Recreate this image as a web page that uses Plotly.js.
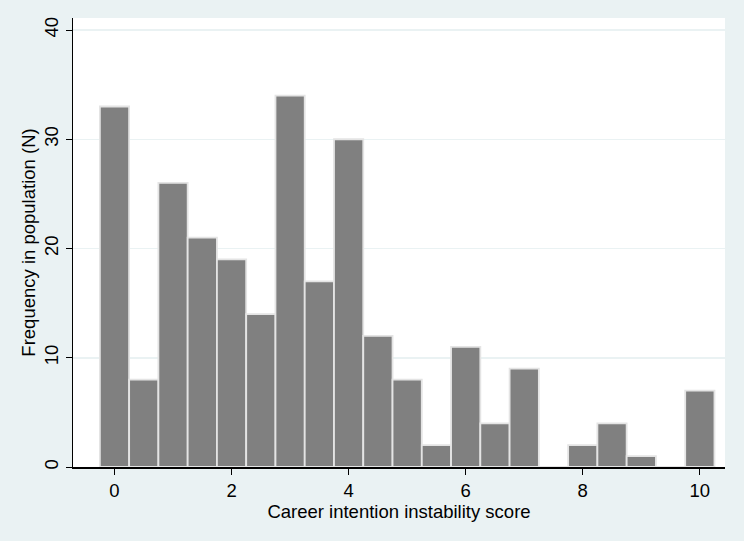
<!DOCTYPE html>
<html>
<head>
<meta charset="utf-8">
<script src="https://cdn.plot.ly/plotly-3.0.1.min.js"></script>
<style>html,body{margin:0;padding:0;background:#eaf2f3;}#chart{width:744px;height:541px;}</style>
</head>
<body>
<div id="chart"></div>
<script>
const binCenters = [0, 0.5, 1, 1.5, 2, 2.5, 3, 3.5, 4, 4.5, 5, 5.5, 6, 6.5, 7, 7.5, 8, 8.5, 9, 9.5, 10];
const frequencies = [33, 8, 26, 21, 19, 14, 34, 17, 30, 12, 8, 2, 11, 4, 9, 0, 2, 4, 1, 0, 7];
const xTicks = [0, 2, 4, 6, 8, 10];
const yTicks = [0, 10, 20, 30, 40];

const trace = {
  type: 'bar',
  x: binCenters,
  y: frequencies,
  width: 0.5,
  marker: {color: '#808080', line: {color: '#e4e4e4', width: 1.8}},
  hoverinfo: 'x+y'
};

const layout = {
  width: 744, height: 541,
  paper_bgcolor: '#eaf2f3',
  plot_bgcolor: '#ffffff',
  margin: {l: 73, r: 19, t: 18, b: 74},
  font: {family: 'Liberation Sans, Arial, sans-serif', size: 18.5, color: '#000'},
  showlegend: false,
  bargap: 0,
  xaxis: {
    range: [-0.709, 10.43],
    tickvals: xTicks,
    ticks: 'outside', ticklen: 6, tickcolor: '#000', tickwidth: 1,
    showgrid: false, zeroline: false,
    showline: true, linecolor: '#000', linewidth: 1.5,
    tickfont: {size: 18.5},
    title: {text: 'Career intention instability score', font: {size: 18.5}, standoff: 0}
  },
  yaxis: {
    range: [0, 41.1],
    tickvals: yTicks,
    tickangle: -90,
    ticks: 'outside', ticklen: 6, tickcolor: '#000', tickwidth: 1,
    showgrid: true, gridcolor: '#eaf2f3', gridwidth: 1.5,
    zeroline: false,
    showline: true, linecolor: '#000', linewidth: 1.5,
    tickfont: {size: 18.5},
    title: {text: 'Frequency in population (N)', font: {size: 18.5}, standoff: 0}
  }
};

Plotly.newPlot('chart', [trace], layout, {displayModeBar: false, staticPlot: true});
</script>
</body>
</html>
